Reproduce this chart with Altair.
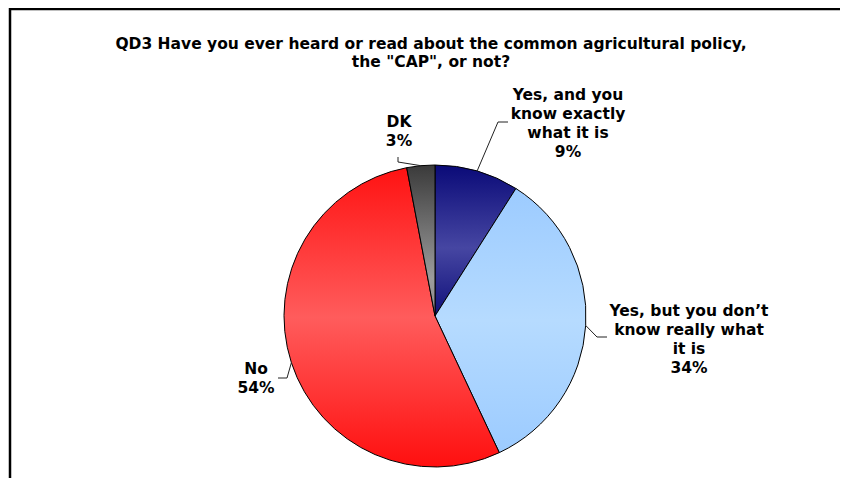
import math
import altair as alt
import pandas as pd

# ---- data ----
categories = ["Yes, and you know exactly what it is",
              "Yes, but you don\u2019t know really what it is",
              "No", "DK"]
values = [9, 34, 54, 3]
label_lines = [["Yes, and you", "know exactly", "what it is"],
               ["Yes, but you don\u2019t", "know really what", "it is"],
               ["No"],
               ["DK"]]
title_lines = ["QD3 Have you ever heard or read about the common agricultural policy,",
               "the \"CAP\", or not?"]

# ---- styling / layout ----
W, H = 832, 470
CX, CY, R = 427, 308, 151
FONT = "DejaVu Sans"

def grad(stops):
    return {"gradient": "linear", "x1": 0, "y1": 0, "x2": 0, "y2": 1,
            "stops": [{"offset": o, "color": c} for o, c in stops]}

gradients = [
    grad([(0, "#0a0a78"), (0.55, "#4646a2"), (1, "#10107a")]),
    grad([(0, "#9ccbff"), (0.5, "#b6dbff"), (1, "#9ccbff")]),
    grad([(0, "#ff1212"), (0.5, "#ff5c5c"), (1, "#ff0f0f")]),
    grad([(0, "#3a3a3a"), (0.75, "#9c9c9c"), (1, "#8a8a8a")]),
]
# label first-line centres and leader elbow/end points (chart pixels)
label_pos = [(560, 87), (681, 303), (248, 361), (391, 114)]
leader_pts = [[(490, 114), (500, 114)],
              [(589, 329), (599, 329)],
              [(279, 370), (270, 370)],
              [(390, 154), (390, 149)]]

pie_df = pd.DataFrame({"cat": categories, "value": values,
                       "idx": list(range(len(values)))})

lab_rows, lead_rows = [], []
total = sum(values)
cum = 0
for i, (c, v) in enumerate(zip(categories, values)):
    mid = (cum + v / 2) / total * 2 * math.pi
    cum += v
    text = "\n".join(label_lines[i] + [f"{v}%"])
    lab_rows.append({"cat": c, "text": text, "x": label_pos[i][0], "y": label_pos[i][1]})
    pts = [(CX + R * math.sin(mid), CY - R * math.cos(mid))] + leader_pts[i]
    for k, (px, py) in enumerate(pts):
        lead_rows.append({"cat": c, "k": k, "x": px, "y": py})
lab_df = pd.DataFrame(lab_rows)
lead_df = pd.DataFrame(lead_rows)

xs = alt.Scale(domain=[0, W], range=[0, W])
ys = alt.Scale(domain=[0, H], range=[0, H])

fill = alt.when(alt.datum.idx == 0).then(alt.value(gradients[0]))
for i in range(1, len(values) - 1):
    fill = fill.when(alt.datum.idx == i).then(alt.value(gradients[i]))
fill = fill.otherwise(alt.value(gradients[-1]))

pie = alt.Chart(pie_df).mark_arc(outerRadius=R, stroke="#000000", strokeWidth=1).encode(
    theta=alt.Theta("value:Q", stack=True),
    order=alt.Order("idx:Q"),
    fill=fill,
    x=alt.value(CX), y=alt.value(CY),
)

leaders = alt.Chart(lead_df).mark_line(color="#222222", strokeWidth=1).encode(
    x=alt.X("x:Q", scale=xs, axis=None),
    y=alt.Y("y:Q", scale=ys, axis=None),
    detail="cat:N",
    order="k:Q",
)

labels = alt.Chart(lab_df).mark_text(font=FONT, fontWeight="bold", fontSize=15.5,
                                     lineBreak="\n", lineHeight=19, align="center",
                                     baseline="middle", color="#000000").encode(
    x=alt.X("x:Q", scale=xs, axis=None),
    y=alt.Y("y:Q", scale=ys, axis=None),
    text="text:N",
)

title_df = pd.DataFrame({"text": ["\n".join(title_lines)]})
title = alt.Chart(title_df).mark_text(font=FONT, fontWeight="bold", fontSize=15.5,
                                      lineBreak="\n", lineHeight=18, align="center",
                                      baseline="middle", color="#000000").encode(
    x=alt.value(423), y=alt.value(36), text="text:N")

# frame: left and top edges of the chart box (decoration)
frame_df = pd.DataFrame({"x": [2, 2, W + 20], "y": [H + 20, 1, 1], "k": [0, 1, 2]})
frame = alt.Chart(frame_df).mark_line(color="#000000", strokeWidth=2.5,
                                      strokeJoin="miter").encode(
    x=alt.X("x:Q", scale=xs, axis=None),
    y=alt.Y("y:Q", scale=ys, axis=None),
    order="k:Q",
)

chart = alt.layer(pie, leaders, labels, title, frame).properties(
    width=W, height=H, padding=0, autosize="none", background="#ffffff"
).configure_view(stroke=None)

chart.save("out.html", embed_options={"renderer": "svg", "actions": False})
